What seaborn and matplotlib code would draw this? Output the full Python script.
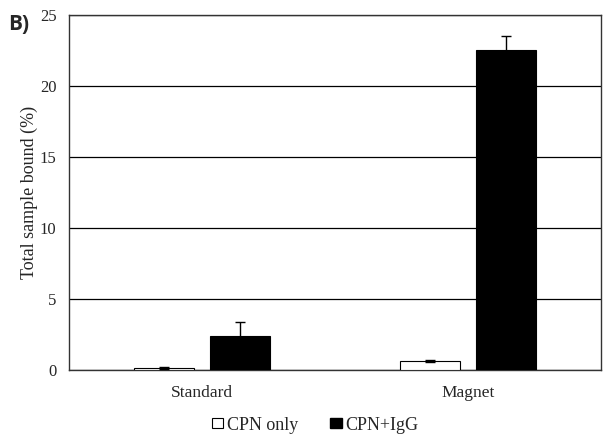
import matplotlib
matplotlib.use("Agg")
import matplotlib.pyplot as plt
import seaborn as sns
import pandas as pd
import numpy as np
from matplotlib.patches import Patch

categories = ["Standard", "Magnet"]
series = ["CPN only", "CPN+IgG"]
cpn_only = [0.15, 0.62]
cpn_igg = [2.4, 22.5]
err_only = [0.05, 0.05]
err_igg = [1.0, 1.0]

df = pd.DataFrame({
    "cat": categories * 2,
    "series": [series[0]] * 2 + [series[1]] * 2,
    "val": cpn_only + cpn_igg,
})

sns.set_style("white")
plt.rcParams["font.family"] = ["Liberation Serif", "DejaVu Serif"]

fig = plt.figure(figsize=(6.15, 4.41), dpi=100)
ax = fig.add_axes([69/615, 1-370/441, 532/615, 355/441])

sns.barplot(data=df, x="cat", y="val", hue="series", order=categories,
            hue_order=series, palette=["white", "black"], width=0.571, gap=0.21,
            edgecolor="black", linewidth=0.8, legend=False, ax=ax, zorder=3)

# error bars
errs = err_only + err_igg
vals = cpn_only + cpn_igg
for p, v, e in zip(ax.patches[:4], vals, errs):
    xc = p.get_x() + p.get_width() / 2
    ax.errorbar(xc, p.get_height(), yerr=e, fmt="none", ecolor="black",
                elinewidth=1.0, capsize=3.5, capthick=1.0, zorder=4)

ax.set_xlim(-0.5, 1.5)
ax.set_ylim(0, 25)
ax.set_yticks([0, 5, 10, 15, 20, 25])
ax.yaxis.grid(True, color="black", linewidth=0.9, zorder=0)
ax.set_axisbelow(True)
for s in ax.spines.values():
    s.set_visible(True)
    s.set_color("#333333")
    s.set_linewidth(1.0)
ax.tick_params(axis="y", length=0, labelsize=12, pad=9)
ax.tick_params(axis="x", length=0, labelsize=12.5, pad=11)
ax.set_xlabel("")
ax.set_ylabel("Total sample bound (%)", fontsize=13, labelpad=1)

handles = [Patch(facecolor="white", edgecolor="black", linewidth=0.8, label=series[0]),
           Patch(facecolor="black", edgecolor="black", label=series[1])]
fig.legend(handles=handles, loc="center", bbox_to_anchor=(315/615, 1-425/441),
           ncol=2, frameon=False, fontsize=13, handlelength=0.62, handleheight=0.45,
           handletextpad=0.2, columnspacing=1.8)

fig.text(8/615, 1-24/441, "B)", fontsize=15, fontweight="bold",
         family=["Open Sans", "DejaVu Sans"], va="center", ha="left")

fig.savefig("out.png", dpi=100)
